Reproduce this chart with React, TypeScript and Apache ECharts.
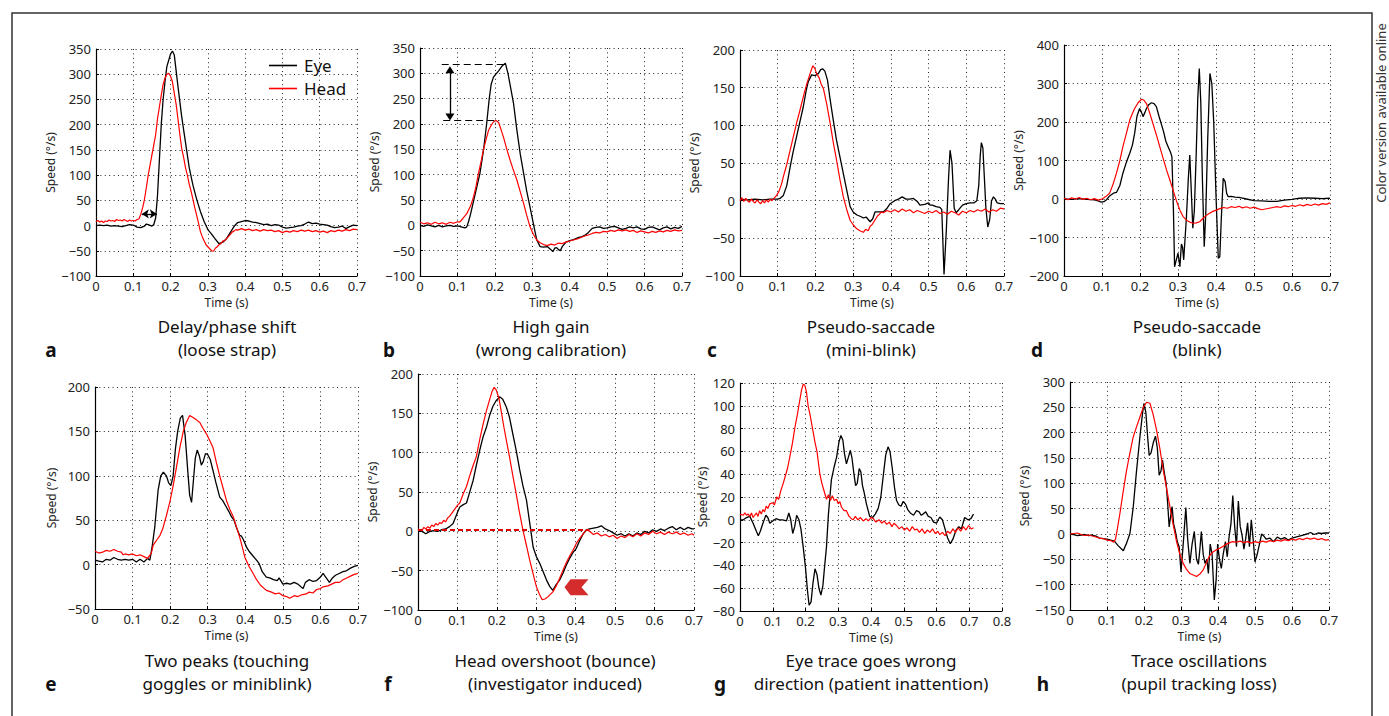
import React, { useEffect, useRef } from "react";
import * as echarts from "echarts";

// ---------- data: [time (s), speed (deg/s)] ----------
const eyeA = [[0,0],[0.01,1],[0.02,0],[0.03,1],[0.04,-1],[0.05,0],[0.06,-1],[0.07,-2],[0.08,0],[0.09,2],[0.1,1],[0.11,-3],[0.12,-4],[0.13,-1],[0.135,3],[0.14,2],[0.15,-1],[0.155,2],[0.16,15],[0.165,60],[0.17,130],[0.175,200],[0.18,250],[0.185,285],[0.19,315],[0.2,340],[0.205,346],[0.21,338],[0.22,275],[0.23,215],[0.24,165],[0.25,115],[0.26,80],[0.27,52],[0.28,28],[0.29,8],[0.3,-8],[0.31,-17],[0.32,-27],[0.33,-36],[0.34,-33],[0.35,-26],[0.36,-14],[0.37,-2],[0.38,6],[0.39,8],[0.4,10],[0.41,9],[0.42,7],[0.43,6],[0.44,4],[0.45,2],[0.46,3],[0.47,0],[0.48,2],[0.49,1],[0.5,-3],[0.51,-5],[0.52,-4],[0.53,-3],[0.54,-1],[0.55,0],[0.56,3],[0.57,7],[0.58,4],[0.59,5],[0.6,3],[0.61,2],[0.62,1],[0.63,-2],[0.64,-4],[0.65,-3],[0.66,-1],[0.67,-6],[0.68,-2],[0.69,1],[0.7,0]];
const headA = [[0,8],[0.005,10],[0.01,7],[0.015,9],[0.02,6],[0.025,9],[0.03,8],[0.035,11],[0.04,9],[0.045,10],[0.05,8],[0.055,12],[0.06,10],[0.065,11],[0.07,9],[0.075,12],[0.08,10],[0.085,8],[0.09,11],[0.095,9],[0.1,10],[0.105,9],[0.11,12],[0.115,13],[0.12,22],[0.125,35],[0.13,52],[0.135,75],[0.14,100],[0.145,120],[0.15,140],[0.155,160],[0.16,180],[0.165,212],[0.17,235],[0.175,258],[0.18,280],[0.185,292],[0.19,300],[0.195,302],[0.2,296],[0.205,285],[0.21,262],[0.215,240],[0.22,210],[0.225,180],[0.23,152],[0.235,135],[0.24,115],[0.245,100],[0.25,82],[0.255,68],[0.26,52],[0.265,35],[0.27,20],[0.275,5],[0.28,-12],[0.285,-22],[0.29,-30],[0.295,-38],[0.3,-42],[0.305,-46],[0.31,-50],[0.315,-51],[0.32,-45],[0.325,-42],[0.33,-38],[0.335,-36],[0.34,-31],[0.345,-30],[0.35,-26],[0.355,-22],[0.36,-18],[0.365,-13],[0.37,-11],[0.375,-8],[0.38,-9],[0.39,-6],[0.4,-9],[0.41,-7],[0.42,-10],[0.43,-8],[0.44,-11],[0.45,-8],[0.46,-10],[0.47,-9],[0.48,-12],[0.49,-10],[0.5,-14],[0.51,-11],[0.52,-13],[0.53,-10],[0.54,-12],[0.55,-9],[0.56,-11],[0.57,-9],[0.58,-12],[0.59,-10],[0.6,-13],[0.61,-11],[0.62,-14],[0.63,-10],[0.64,-12],[0.65,-9],[0.66,-11],[0.67,-8],[0.68,-10],[0.69,-7],[0.7,-8]];

const eyeB = [[0,0],[0.01,-2],[0.02,1],[0.03,-1],[0.04,-3],[0.05,0],[0.06,-3],[0.07,-1],[0.08,0],[0.09,-2],[0.1,-1],[0.11,-3],[0.12,-5],[0.125,-3],[0.13,8],[0.135,22],[0.14,38],[0.15,70],[0.16,102],[0.17,150],[0.178,200],[0.185,250],[0.19,278],[0.196,292],[0.2,296],[0.21,305],[0.22,315],[0.228,320],[0.235,300],[0.24,280],[0.25,240],[0.259,187],[0.268,140],[0.277,102],[0.285,68],[0.294,36],[0.303,3],[0.312,-29],[0.321,-42],[0.33,-43],[0.34,-42],[0.35,-48],[0.355,-52],[0.36,-45],[0.365,-44],[0.37,-48],[0.375,-50],[0.38,-42],[0.39,-33],[0.4,-30],[0.41,-28],[0.42,-25],[0.43,-23],[0.44,-20],[0.45,-14],[0.46,-6],[0.47,-4],[0.48,-3],[0.49,-6],[0.5,-5],[0.51,-3],[0.52,-2],[0.53,-5],[0.54,-8],[0.55,-6],[0.56,-3],[0.57,-5],[0.58,-3],[0.59,-7],[0.6,-8],[0.61,-4],[0.62,-3],[0.63,-6],[0.64,-9],[0.65,-5],[0.66,-3],[0.67,-7],[0.68,-4],[0.69,-6],[0.7,-2]];
const headB = [[0,6],[0.01,3],[0.02,5],[0.03,2],[0.04,6],[0.05,3],[0.06,5],[0.07,2],[0.08,6],[0.09,4],[0.1,7],[0.107,7],[0.115,14],[0.125,23],[0.135,38],[0.143,56],[0.15,78],[0.156,102],[0.163,125],[0.169,148],[0.176,168],[0.183,187],[0.19,197],[0.196,204],[0.203,207],[0.21,203],[0.216,190],[0.223,174],[0.232,150],[0.241,128],[0.25,108],[0.259,89],[0.268,66],[0.277,43],[0.285,20],[0.294,-3],[0.303,-18],[0.312,-29],[0.32,-34],[0.33,-38],[0.34,-40],[0.35,-37],[0.36,-39],[0.37,-35],[0.38,-36],[0.39,-33],[0.4,-31],[0.41,-29],[0.42,-27],[0.43,-24],[0.44,-21],[0.45,-19],[0.46,-16],[0.47,-14],[0.48,-15],[0.49,-12],[0.5,-13],[0.51,-10],[0.52,-12],[0.53,-9],[0.54,-11],[0.55,-9],[0.56,-12],[0.57,-10],[0.58,-14],[0.59,-11],[0.6,-13],[0.61,-15],[0.62,-12],[0.63,-14],[0.64,-11],[0.65,-13],[0.66,-10],[0.67,-12],[0.68,-9],[0.69,-11],[0.7,-10]];

const eyeC = [[0,2],[0.02,1],[0.04,2],[0.06,1],[0.08,2],[0.1,2],[0.106,3],[0.115,7],[0.124,20],[0.133,45],[0.141,65],[0.15,85],[0.159,105],[0.168,125],[0.175,145],[0.181,158],[0.19,167],[0.199,166],[0.208,169],[0.214,174],[0.219,175],[0.225,172],[0.232,160],[0.239,134],[0.247,108],[0.256,80],[0.265,58],[0.274,36],[0.283,14],[0.292,-8],[0.3,-15],[0.31,-19],[0.32,-21],[0.327,-23],[0.335,-22],[0.345,-28],[0.352,-24],[0.358,-15],[0.37,-15],[0.38,-15],[0.39,-10],[0.398,-4],[0.41,0],[0.42,2],[0.43,5],[0.44,2],[0.45,2],[0.46,3],[0.47,-1],[0.477,-6],[0.49,-5],[0.5,-3],[0.504,-6],[0.51,-6],[0.52,-8],[0.53,-9],[0.535,-12],[0.541,-98],[0.547,-40],[0.553,30],[0.557,67],[0.562,50],[0.568,-10],[0.573,-16],[0.58,-12],[0.59,-6],[0.6,-4],[0.61,-3],[0.62,-3],[0.628,0],[0.633,20],[0.637,60],[0.64,77],[0.644,70],[0.648,30],[0.652,-10],[0.657,-35],[0.662,-25],[0.667,0],[0.672,5],[0.677,2],[0.682,-3],[0.69,-4],[0.7,-4]];
const headC = [[0,0],[0.005,4],[0.01,-1],[0.015,3],[0.02,0],[0.025,-2],[0.03,2],[0.035,-1],[0.04,-3],[0.045,1],[0.05,-2],[0.055,-4],[0.06,0],[0.065,-3],[0.07,1],[0.075,-2],[0.08,2],[0.085,0],[0.09,3],[0.097,7],[0.103,12],[0.11,22],[0.115,32],[0.124,48],[0.133,67],[0.141,84],[0.15,103],[0.159,120],[0.168,138],[0.177,155],[0.186,169],[0.193,179],[0.198,176],[0.203,169],[0.21,163],[0.215,155],[0.221,149],[0.23,128],[0.239,103],[0.247,78],[0.256,54],[0.265,28],[0.274,5],[0.283,-12],[0.292,-26],[0.3,-32],[0.309,-37],[0.318,-40],[0.327,-42],[0.333,-38],[0.34,-40],[0.345,-34],[0.35,-32],[0.355,-28],[0.36,-24],[0.365,-20],[0.37,-18],[0.375,-15],[0.38,-16],[0.39,-13],[0.4,-15],[0.41,-12],[0.42,-15],[0.43,-11],[0.44,-14],[0.45,-12],[0.46,-16],[0.47,-13],[0.48,-15],[0.49,-17],[0.5,-14],[0.51,-16],[0.52,-13],[0.53,-17],[0.54,-15],[0.55,-18],[0.56,-14],[0.57,-16],[0.58,-19],[0.59,-14],[0.6,-16],[0.61,-13],[0.62,-15],[0.63,-12],[0.64,-14],[0.65,-11],[0.66,-15],[0.67,-12],[0.68,-14],[0.69,-10],[0.7,-11]];

const eyeD = [[0,0],[0.02,-1],[0.04,1],[0.06,-1],[0.08,-2],[0.09,-5],[0.098,-8],[0.105,-7],[0.112,-2],[0.12,8],[0.13,15],[0.138,17],[0.147,35],[0.155,67],[0.164,95],[0.173,119],[0.18,140],[0.186,171],[0.192,215],[0.199,235],[0.204,225],[0.208,214],[0.213,225],[0.217,235],[0.223,245],[0.23,250],[0.237,248],[0.243,240],[0.25,215],[0.256,195],[0.262,175],[0.268,150],[0.274,136],[0.28,122],[0.284,110],[0.288,-30],[0.291,-176],[0.295,-160],[0.3,-141],[0.305,-176],[0.309,-117],[0.312,-125],[0.315,-158],[0.322,-50],[0.327,50],[0.331,114],[0.335,20],[0.339,-76],[0.343,-30],[0.348,120],[0.352,260],[0.356,339],[0.36,250],[0.364,60],[0.369,-124],[0.373,-40],[0.378,150],[0.384,326],[0.389,300],[0.394,200],[0.4,10],[0.406,-154],[0.41,-150],[0.414,-50],[0.419,54],[0.424,45],[0.428,15],[0.432,6],[0.44,7],[0.45,5],[0.46,4],[0.47,2],[0.48,0],[0.5,-4],[0.52,-5],[0.54,-6],[0.56,-6],[0.58,-3],[0.6,-1],[0.62,2],[0.64,3],[0.66,2],[0.68,1],[0.7,2]];
const headD = [[0,2],[0.01,-2],[0.02,3],[0.03,0],[0.04,4],[0.05,-1],[0.06,2],[0.07,-2],[0.08,1],[0.09,-3],[0.1,0],[0.105,3],[0.112,8],[0.12,15],[0.129,38],[0.138,67],[0.147,100],[0.155,136],[0.164,170],[0.173,205],[0.18,222],[0.186,235],[0.195,250],[0.204,259],[0.21,257],[0.217,248],[0.225,225],[0.234,196],[0.243,167],[0.252,136],[0.261,105],[0.27,75],[0.279,48],[0.287,23],[0.296,-5],[0.305,-29],[0.313,-45],[0.322,-55],[0.331,-60],[0.34,-63],[0.348,-62],[0.357,-59],[0.366,-50],[0.375,-42],[0.385,-36],[0.392,-32],[0.401,-29],[0.41,-25],[0.42,-22],[0.43,-24],[0.44,-20],[0.45,-22],[0.46,-19],[0.47,-23],[0.48,-20],[0.49,-24],[0.5,-21],[0.51,-25],[0.52,-28],[0.53,-26],[0.54,-24],[0.55,-22],[0.56,-20],[0.57,-22],[0.58,-18],[0.59,-20],[0.6,-17],[0.61,-19],[0.62,-15],[0.63,-18],[0.64,-14],[0.65,-17],[0.66,-13],[0.67,-16],[0.68,-12],[0.69,-14],[0.7,-10]];

const eyeE = [[0,5],[0.01,4],[0.02,3],[0.03,6],[0.04,5],[0.05,8],[0.06,6],[0.07,5],[0.08,6],[0.09,5],[0.1,6],[0.11,3],[0.12,6],[0.13,3],[0.14,7],[0.146,5],[0.152,20],[0.159,42],[0.164,65],[0.168,84],[0.175,100],[0.182,104],[0.19,100],[0.196,92],[0.202,89],[0.208,100],[0.214,130],[0.22,150],[0.227,165],[0.233,168],[0.24,145],[0.247,105],[0.252,78],[0.257,70],[0.262,95],[0.267,120],[0.272,129],[0.278,122],[0.283,112],[0.288,116],[0.294,125],[0.3,124],[0.307,118],[0.314,106],[0.322,92],[0.332,76],[0.34,72],[0.348,66],[0.356,60],[0.363,54],[0.37,50],[0.378,40],[0.385,33],[0.39,32],[0.395,28],[0.403,20],[0.41,15],[0.42,10],[0.43,5],[0.437,1],[0.445,-8],[0.456,-14],[0.465,-15],[0.475,-17],[0.485,-18],[0.49,-15],[0.5,-22],[0.51,-21],[0.52,-22],[0.53,-20],[0.54,-22],[0.548,-25],[0.554,-27],[0.56,-20],[0.57,-17],[0.58,-19],[0.59,-18],[0.6,-14],[0.607,-10],[0.614,-14],[0.624,-20],[0.632,-15],[0.64,-12],[0.65,-10],[0.66,-8],[0.669,-7],[0.68,-4],[0.69,-2],[0.7,-1]];
const headE = [[0,15],[0.01,13],[0.02,14],[0.03,16],[0.04,15],[0.05,17],[0.06,15],[0.07,14],[0.075,11],[0.08,12],[0.09,11],[0.1,12],[0.11,10],[0.12,11],[0.13,9],[0.14,7],[0.15,13],[0.155,22],[0.16,25],[0.165,28],[0.173,33],[0.18,40],[0.19,55],[0.2,72],[0.208,89],[0.217,110],[0.226,132],[0.235,150],[0.243,160],[0.252,168],[0.26,166],[0.27,163],[0.279,160],[0.288,153],[0.297,147],[0.305,140],[0.314,132],[0.323,115],[0.332,100],[0.341,86],[0.35,72],[0.359,62],[0.368,54],[0.376,43],[0.385,31],[0.392,20],[0.399,8],[0.41,-2],[0.421,-10],[0.43,-17],[0.44,-23],[0.456,-29],[0.47,-31],[0.48,-33],[0.49,-32],[0.5,-35],[0.51,-36],[0.518,-38],[0.53,-35],[0.54,-36],[0.55,-34],[0.562,-33],[0.57,-31],[0.58,-32],[0.59,-28],[0.6,-27],[0.607,-25],[0.62,-24],[0.63,-22],[0.64,-20],[0.651,-20],[0.66,-17],[0.67,-15],[0.68,-13],[0.69,-11],[0.7,-10]];

const eyeF = [[0,2],[0.01,0],[0.02,-3],[0.03,0],[0.04,1],[0.05,0],[0.06,2],[0.07,3],[0.08,6],[0.089,10],[0.1,24],[0.106,31],[0.115,34],[0.123,36],[0.13,48],[0.14,65],[0.148,84],[0.157,104],[0.165,120],[0.174,133],[0.182,148],[0.19,159],[0.198,166],[0.207,171],[0.215,168],[0.224,158],[0.232,145],[0.24,125],[0.249,103],[0.258,78],[0.266,58],[0.275,40],[0.283,12],[0.292,-20],[0.3,-32],[0.309,-41],[0.318,-52],[0.326,-62],[0.334,-70],[0.342,-75],[0.35,-68],[0.359,-62],[0.368,-53],[0.376,-43],[0.385,-34],[0.393,-27],[0.401,-22],[0.41,-12],[0.418,-4],[0.427,2],[0.435,3],[0.445,4],[0.455,5],[0.465,7],[0.475,3],[0.485,1],[0.495,-2],[0.505,-5],[0.515,-3],[0.525,-6],[0.535,-3],[0.545,-6],[0.555,-2],[0.565,-4],[0.575,0],[0.585,-2],[0.595,2],[0.605,0],[0.615,3],[0.625,1],[0.635,4],[0.645,6],[0.655,2],[0.665,5],[0.675,2],[0.685,5],[0.695,3],[0.7,3]];
const headF = [[0,3],[0.01,1],[0.015,5],[0.02,3],[0.025,6],[0.03,4],[0.035,8],[0.04,6],[0.045,10],[0.05,8],[0.055,11],[0.06,10],[0.065,14],[0.07,12],[0.075,17],[0.08,19],[0.09,26],[0.1,33],[0.106,36],[0.115,48],[0.123,57],[0.132,72],[0.14,84],[0.148,95],[0.157,118],[0.165,136],[0.174,154],[0.182,168],[0.188,178],[0.193,183],[0.198,180],[0.205,170],[0.212,150],[0.218,132],[0.224,116],[0.232,95],[0.24,72],[0.249,48],[0.257,25],[0.266,2],[0.275,-18],[0.283,-36],[0.292,-54],[0.3,-70],[0.308,-80],[0.315,-87],[0.322,-86],[0.33,-83],[0.342,-77],[0.35,-70],[0.359,-60],[0.368,-49],[0.376,-40],[0.385,-31],[0.393,-24],[0.401,-16],[0.41,-9],[0.418,-4],[0.427,2],[0.435,0],[0.445,-4],[0.455,-2],[0.465,-6],[0.475,-4],[0.485,-7],[0.495,-5],[0.505,-9],[0.515,-6],[0.525,-8],[0.535,-4],[0.545,-7],[0.555,-3],[0.565,-6],[0.575,-2],[0.585,-4],[0.595,0],[0.605,-3],[0.615,-1],[0.625,-4],[0.635,-1],[0.645,-3],[0.655,-1],[0.665,-4],[0.675,-2],[0.685,-5],[0.695,-3],[0.7,-5]];

const eyeG = [[0,0],[0.01,0],[0.02,2],[0.03,3],[0.04,-3],[0.05,-10],[0.056,-14],[0.062,-10],[0.07,-3],[0.079,4],[0.085,2],[0.091,-3],[0.1,-1],[0.11,1],[0.12,0],[0.13,0],[0.142,-1],[0.149,6],[0.155,0],[0.161,-12],[0.167,-6],[0.173,4],[0.18,0],[0.186,-8],[0.193,-24],[0.2,-42],[0.206,-62],[0.211,-75],[0.217,-72],[0.223,-55],[0.229,-43],[0.235,-48],[0.241,-60],[0.247,-66],[0.253,-58],[0.258,-42],[0.264,-24],[0.27,5],[0.279,35],[0.288,47],[0.295,55],[0.302,68],[0.308,74],[0.314,70],[0.319,58],[0.325,49],[0.331,55],[0.337,61],[0.342,54],[0.348,40],[0.353,30],[0.358,32],[0.364,45],[0.369,42],[0.374,30],[0.379,24],[0.386,14],[0.396,3],[0.405,2],[0.413,5],[0.422,10],[0.43,20],[0.438,40],[0.445,57],[0.452,64],[0.458,60],[0.465,45],[0.472,28],[0.478,17],[0.485,13],[0.492,12],[0.498,16],[0.505,14],[0.512,9],[0.52,6],[0.53,4],[0.539,8],[0.547,7],[0.553,4],[0.559,5],[0.567,7],[0.575,3],[0.583,2],[0.591,-2],[0.6,-3],[0.605,0],[0.61,2.5],[0.618,0],[0.626,-8],[0.634,-16],[0.642,-21],[0.65,-17],[0.66,-9],[0.668,-6],[0.676,-8],[0.686,2],[0.696,0],[0.705,1],[0.713,5]];
const headG = [[0,5],[0.01,4],[0.015,6],[0.02,4],[0.025,5],[0.03,3],[0.035,6],[0.04,2],[0.045,4],[0.05,6],[0.055,3],[0.06,8],[0.065,5],[0.07,9],[0.075,7],[0.08,12],[0.085,10],[0.091,14],[0.1,15],[0.105,13],[0.112,20],[0.118,18],[0.124,25],[0.132,32],[0.138,38],[0.145,45],[0.152,55],[0.16,67],[0.167,80],[0.175,92],[0.182,104],[0.188,114],[0.193,119],[0.198,118],[0.203,112],[0.208,100],[0.214,92],[0.219,84],[0.224,76],[0.229,68],[0.235,60],[0.244,40],[0.25,32],[0.255,27],[0.26,22],[0.264,18],[0.27,22],[0.276,17],[0.282,21],[0.288,17],[0.295,18],[0.3,14],[0.305,16],[0.31,11],[0.318,8],[0.325,8],[0.333,3],[0.34,1],[0.346,0],[0.352,3],[0.36,0],[0.368,2],[0.376,-1],[0.385,1],[0.392,-1],[0.4,2],[0.407,1],[0.415,-2],[0.425,0],[0.433,-3],[0.44,-1],[0.448,-4],[0.456,-2],[0.464,-6],[0.47,-3],[0.478,-5],[0.486,-8],[0.494,-6],[0.502,-9],[0.51,-7],[0.518,-10],[0.526,-6],[0.534,-9],[0.54,-8],[0.548,-11],[0.556,-8],[0.564,-12],[0.572,-9],[0.58,-11],[0.588,-8],[0.596,-12],[0.604,-10],[0.61,-13],[0.618,-11],[0.626,-14],[0.634,-10],[0.642,-12],[0.65,-8],[0.658,-11],[0.666,-7],[0.674,-10],[0.682,-6],[0.69,-9],[0.698,-5],[0.706,-8],[0.713,-7]];

const eyeH = [[0,0],[0.01,-1],[0.02,-3],[0.03,-2],[0.04,-1],[0.05,-3],[0.06,-2],[0.07,-4],[0.08,-8],[0.09,-9],[0.1,-10],[0.11,-12],[0.12,-14],[0.13,-23],[0.144,-33],[0.153,-18],[0.162,1],[0.171,54],[0.18,126],[0.189,192],[0.196,238],[0.2,258],[0.205,240],[0.21,190],[0.214,155],[0.219,160],[0.225,180],[0.231,193],[0.236,170],[0.241,116],[0.246,125],[0.25,146],[0.255,120],[0.26,100],[0.264,60],[0.268,14],[0.272,35],[0.276,54],[0.28,20],[0.284,8],[0.29,-15],[0.295,-25],[0.3,-75],[0.306,-20],[0.313,52],[0.318,-10],[0.324,-58],[0.33,-20],[0.336,5],[0.342,-50],[0.347,-60],[0.351,-30],[0.355,5],[0.36,-40],[0.365,-58],[0.37,-50],[0.374,-78],[0.379,-20],[0.384,-40],[0.39,-130],[0.395,-90],[0.399,-20],[0.404,-50],[0.409,-68],[0.414,-40],[0.42,-15],[0.425,-45],[0.43,-5],[0.435,20],[0.44,76],[0.445,15],[0.45,-25],[0.455,65],[0.46,15],[0.465,-2],[0.47,-30],[0.475,-8],[0.48,22],[0.485,-25],[0.49,28],[0.495,-10],[0.5,-55],[0.506,-40],[0.512,-20],[0.518,0],[0.525,-5],[0.53,-10],[0.54,-8],[0.55,-15],[0.56,-6],[0.57,-10],[0.58,-7],[0.59,-12],[0.6,-8],[0.61,-6],[0.62,-4],[0.63,-2],[0.64,0],[0.65,3],[0.66,-1],[0.67,2],[0.68,1],[0.69,2],[0.7,2]];
const headH = [[0,0],[0.01,1],[0.02,2],[0.03,-1],[0.04,-3],[0.05,-2],[0.06,-4],[0.07,-6],[0.08,-8],[0.09,-9],[0.1,-12],[0.11,-13],[0.118,-16],[0.123,-10],[0.128,10],[0.135,41],[0.144,85],[0.153,126],[0.162,160],[0.171,192],[0.18,212],[0.189,231],[0.198,250],[0.207,260],[0.216,258],[0.225,235],[0.234,205],[0.243,168],[0.252,126],[0.261,90],[0.27,54],[0.279,18],[0.288,-15],[0.297,-40],[0.306,-58],[0.315,-70],[0.324,-78],[0.333,-81],[0.342,-84],[0.351,-79],[0.36,-71],[0.369,-56],[0.378,-42],[0.387,-35],[0.396,-31],[0.405,-28],[0.414,-24],[0.423,-20],[0.432,-17],[0.44,-15],[0.45,-16],[0.46,-14],[0.47,-17],[0.48,-15],[0.49,-18],[0.5,-15],[0.51,-17],[0.52,-14],[0.53,-16],[0.54,-13],[0.55,-15],[0.56,-12],[0.57,-14],[0.58,-11],[0.59,-13],[0.6,-10],[0.61,-12],[0.62,-9],[0.63,-11],[0.64,-8],[0.65,-10],[0.66,-8],[0.67,-11],[0.68,-9],[0.69,-12],[0.7,-11]];

// axis ranges [ymin, ymax, yInterval, xmax]
const yRanges = [[-100,350,50,0.7],[-100,350,50,0.7],[-100,200,50,0.7],[-200,400,100,0.7],[-50,200,50,0.7],[-100,200,50,0.7],[-80,120,20,0.8],[-150,300,50,0.7]];

const panelTitles = [
  ["Delay/phase shift", "(loose strap)"],
  ["High gain", "(wrong calibration)"],
  ["Pseudo-saccade", "(mini-blink)"],
  ["Pseudo-saccade", "(blink)"],
  ["Two peaks (touching", "goggles or miniblink)"],
  ["Head overshoot (bounce)", "(investigator induced)"],
  ["Eye trace goes wrong", "direction (patient inattention)"],
  ["Trace oscillations", "(pupil tracking loss)"],
];
const panelLetters = ["a", "b", "c", "d", "e", "f", "g", "h"];
const eyeSeries = [eyeA, eyeB, eyeC, eyeD, eyeE, eyeF, eyeG, eyeH];
const headSeries = [headA, headB, headC, headD, headE, headF, headG, headH];

// annotation values
const delayArrow = [[0.123, 23], [0.163, 23]];
const gainTop = [[0.058, 317], [0.228, 317]];
const gainBottom = [[0.062, 208], [0.212, 208]];
const gainArrow = [[0.08, 307], [0.08, 214]];
const zeroLineF = [[0, 2], [0.435, 2]];
const overshootMarker = [0.402, -71];

// ---------- layout ----------
const FONT = "'Noto Sans', 'DejaVu Sans', sans-serif";
const grids = [
  { left: 96, top: 49, width: 261, height: 227 },
  { left: 420, top: 48, width: 262, height: 228 },
  { left: 740, top: 50, width: 264, height: 226 },
  { left: 1064, top: 45, width: 266, height: 231 },
  { left: 95, top: 387, width: 263, height: 222 },
  { left: 418, top: 374, width: 276, height: 236 },
  { left: 740, top: 383, width: 262, height: 228 },
  { left: 1070, top: 382, width: 259, height: 228 },
];
const yNameGaps = [38, 37, 31, 35, 37, 32, 29, 32];
const titleX = [227, 551, 871, 1197, 227, 555, 871, 1199];
const letterX = [51, 389, 712, 1037, 51, 388, 720, 1043];

const MINUS = "\u2212";
const fmtY = (v: number) => (v < 0 ? MINUS + Math.abs(v) : String(v));
const fmtX = (v: number) => String(Math.round(v * 10) / 10);

const chevron = "path://M0,8 L6,0 L24,0 L17,8 L24,16 L6,16 Z";

export default function App() {
  const ref = useRef<HTMLDivElement>(null);
  useEffect(() => {
    document.body.style.margin = "0";
    const chart = echarts.init(ref.current!, undefined, { renderer: "svg" });

    const gridOpt = grids.map((g) => ({ ...g, containLabel: false }));
    const xAxes = yRanges.map((r, i) => ({
      type: "value",
      gridIndex: i,
      min: 0,
      max: r[3],
      interval: 0.1,
      name: "Time (s)",
      nameLocation: "middle",
      nameGap: 20,
      nameTextStyle: { fontSize: 12, lineHeight: 13, color: "#222", fontFamily: FONT },
      axisLine: { show: true, onZero: false, lineStyle: { color: "#000", width: 1.2 } },
      axisTick: { show: true, inside: true, length: 3, lineStyle: { color: "#000" } },
      axisLabel: { formatter: fmtX, fontSize: 13, lineHeight: 14, color: "#222", fontFamily: FONT, margin: 3 },
      splitLine: { show: true, lineStyle: { color: "#222", width: 1, type: [1, 3.4] } },
    }));
    const yAxes = yRanges.map((r, i) => ({
      type: "value",
      gridIndex: i,
      min: r[0],
      max: r[1],
      interval: r[2],
      name: "Speed (°/s)",
      nameLocation: "middle",
      nameGap: yNameGaps[i],
      nameTextStyle: { fontSize: 12, lineHeight: 13, color: "#222", fontFamily: FONT },
      axisLine: { show: true, onZero: false, lineStyle: { color: "#000", width: 1.2 } },
      axisTick: { show: true, inside: true, length: 3, lineStyle: { color: "#000" } },
      axisLabel: { formatter: fmtY, fontSize: 13, lineHeight: 14, color: "#222", fontFamily: FONT, margin: 5 },
      splitLine: { show: true, lineStyle: { color: "#222", width: 1, type: [1, 3.4] } },
    }));

    const series: any[] = [];
    for (let i = 0; i < 8; i++) {
      const eye: any = {
        type: "line",
        name: i === 0 ? "Eye" : "Eye " + panelLetters[i],
        xAxisIndex: i,
        yAxisIndex: i,
        data: eyeSeries[i],
        symbol: "none",
        lineStyle: { color: "#000", width: 1.3 },
        itemStyle: { color: "#000" },
        silent: true,
      };
      const head: any = {
        type: "line",
        name: i === 0 ? "Head" : "Head " + panelLetters[i],
        xAxisIndex: i,
        yAxisIndex: i,
        data: headSeries[i],
        symbol: "none",
        lineStyle: { color: "#ff0000", width: 1.2 },
        itemStyle: { color: "#ff0000" },
        silent: true,
      };
      if (i === 0) {
        eye.markLine = {
          silent: true,
          animation: false,
          label: { show: false },
          symbol: ["arrow", "arrow"],
          symbolSize: [7, 7],
          lineStyle: { color: "#000", width: 1.3, type: "solid" },
          data: [[{ coord: delayArrow[0] }, { coord: delayArrow[1] }]],
        };
      }
      if (i === 1) {
        const dash = { color: "#000", width: 1.2, type: [7, 4] };
        eye.markLine = {
          silent: true,
          animation: false,
          label: { show: false },
          symbol: ["none", "none"],
          lineStyle: { color: "#000", width: 1.2, type: "solid" },
          data: [
            [{ coord: gainTop[0], lineStyle: dash, symbol: "none" }, { coord: gainTop[1], symbol: "none" }],
            [{ coord: gainBottom[0], lineStyle: dash, symbol: "none" }, { coord: gainBottom[1], symbol: "none" }],
            [
              { coord: gainArrow[0], symbol: "triangle", symbolSize: [9, 7], lineStyle: { color: "#000", width: 1.3, type: "solid" } },
              { coord: gainArrow[1], symbol: "triangle", symbolSize: [9, 7] },
            ],
          ],
        };
      }
      if (i === 5) {
        head.markLine = {
          silent: true,
          animation: false,
          label: { show: false },
          symbol: ["none", "none"],
          lineStyle: { color: "#e00000", width: 2.2, type: [5, 3] },
          data: [[{ coord: zeroLineF[0] }, { coord: zeroLineF[1] }]],
        };
        head.markPoint = {
          silent: true,
          animation: false,
          symbol: chevron,
          symbolSize: [24, 16],
          itemStyle: { color: "#d42c2c" },
          label: { show: false },
          data: [{ coord: overshootMarker }],
        };
      }
      series.push(eye, head);
    }

    const graphics: any[] = [];
    // frame
    graphics.push({
      type: "polyline",
      shape: { points: [[12, 716], [12, 13], [1372, 13], [1372, 716]] },
      style: { stroke: "#333", lineWidth: 1.5, fill: "none" },
      silent: true,
    });
    graphics.push({
      type: "text",
      x: 1381,
      y: 113,
      rotation: Math.PI / 2,
      style: {
        text: "Color version available online",
        font: "13px " + FONT,
        lineHeight: 13,
        fill: "#333",
        textAlign: "center",
        textVerticalAlign: "middle",
      },
      silent: true,
    });
    for (let i = 0; i < 8; i++) {
      const row = i < 4 ? 0 : 1;
      const y1 = row === 0 ? 326 : 660;
      const y2 = row === 0 ? 349 : 683;
      graphics.push({
        type: "text",
        x: titleX[i],
        y: y1,
        style: { text: panelTitles[i][0], font: "17px " + FONT, fill: "#111", textAlign: "center", textVerticalAlign: "middle" },
        silent: true,
      });
      graphics.push({
        type: "text",
        x: titleX[i],
        y: y2,
        style: { text: panelTitles[i][1], font: "17px " + FONT, fill: "#111", textAlign: "center", textVerticalAlign: "middle" },
        silent: true,
      });
      graphics.push({
        type: "text",
        x: letterX[i],
        y: y2 + 1,
        style: { text: panelLetters[i], font: "bold 19px " + FONT, fill: "#111", textAlign: "center", textVerticalAlign: "middle" },
        silent: true,
      });
    }

    chart.setOption({
      animation: false,
      backgroundColor: "#fff",
      textStyle: { fontFamily: FONT },
      grid: gridOpt,
      xAxis: xAxes,
      yAxis: yAxes,
      legend: {
        data: ["Eye", "Head"],
        left: 264,
        top: 52,
        orient: "vertical",
        icon: "rect",
        itemWidth: 28,
        itemHeight: 1.6,
        itemGap: 6,
        selectedMode: false,
        textStyle: { fontSize: 17, lineHeight: 15, color: "#111", fontFamily: FONT, padding: [0, 0, 0, 2] },
      },
      series,
      graphic: graphics,
    });
    return () => chart.dispose();
  }, []);
  return <div ref={ref} style={{ width: 1389, height: 716 }} />;
}
